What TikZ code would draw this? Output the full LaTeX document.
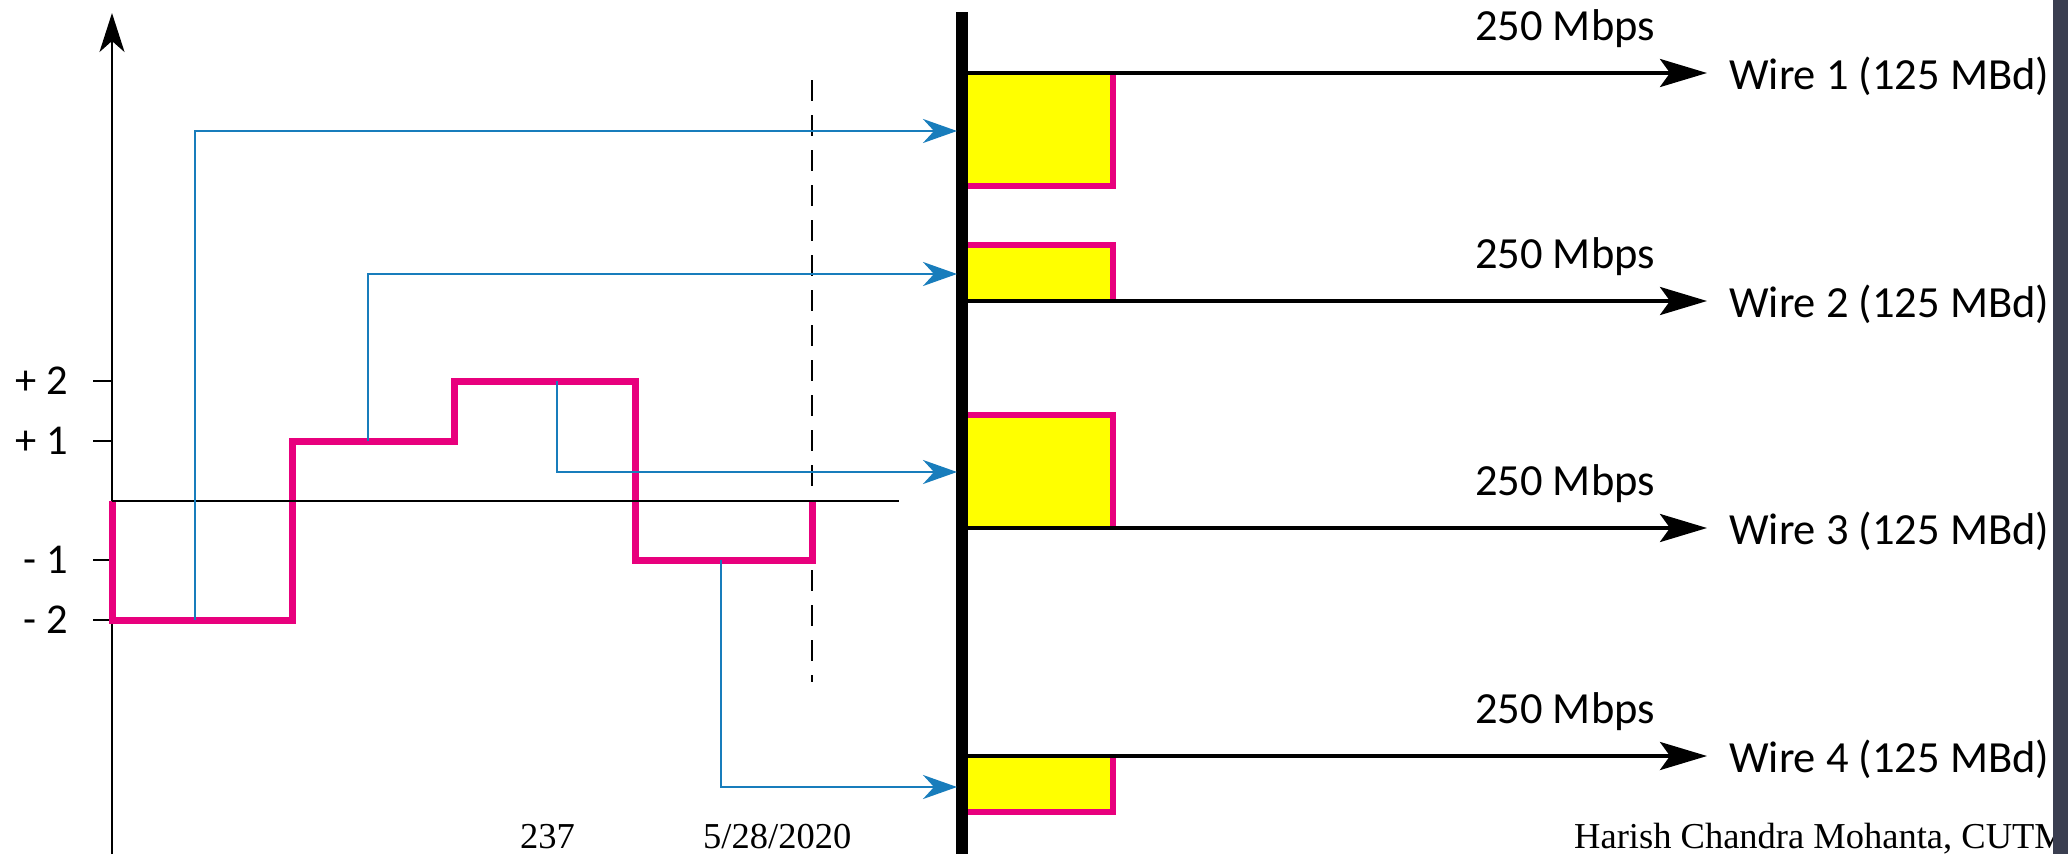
\documentclass[tikz,border=0pt]{standalone}
\usepackage{fontspec}
\setmainfont{Liberation Serif}
\newfontfamily\labelfont{Carlito}
\usetikzlibrary{arrows.meta}
\definecolor{sigpink}{RGB}{232,0,125}
\definecolor{linkblue}{RGB}{24,125,188}
\definecolor{boxyellow}{RGB}{255,255,0}
\definecolor{darkbar}{RGB}{58,62,80}
\tikzset{
  axisline/.style={line width=2.2pt},
  signal/.style={draw=sigpink,line width=7pt,line join=miter},
  linkarrow/.style={draw=linkblue,line width=2.6pt,line join=miter,-{Stealth[length=34pt,width=24pt,inset=11pt]}},
  wirearrow/.style={line width=4pt,-{Stealth[length=47pt,width=28pt,inset=10pt]}},
  busline/.style={line width=12pt},
  boxfill/.style={fill=boxyellow},
  boxedge/.style={draw=sigpink,line width=6pt,line join=miter},
  ticklabel/.style={font=\labelfont\fontsize{42.5}{48}\selectfont,anchor=east,inner sep=0pt},
  ratelabel/.style={font=\labelfont\fontsize{44.5}{50}\selectfont,anchor=base west,inner sep=0pt},
  footlabel/.style={font=\fontsize{36.5}{42}\selectfont,anchor=base west,inner sep=0pt},
  dashline/.style={line width=2.2pt,dash pattern=on 21pt off 14pt},
}
\begin{document}
\begin{tikzpicture}[x=1pt,y=-1pt]
\useasboundingbox (0,0) rectangle (2068,854);
\fill[white] (0,0) rectangle (2068,854);

% coordinates
\coordinate (axbot) at (112,854);
\coordinate (axtop) at (112,13);
\coordinate (zl) at (112,501);
\coordinate (zr) at (899,501);
\coordinate (dtop) at (812,80);
\coordinate (dbot) at (812,682);
\coordinate (bustop) at (962,12);
\coordinate (busbot) at (962,854);

% y axis
\draw[axisline,-{Stealth[length=39pt,width=25pt,inset=11pt]}] (axbot) -- (axtop);
% ticks and labels
\foreach \yy/\lab/\nm in {381/{+ 2}/p2, 441/{+ 1}/p1, 560/{- 1}/m1, 620/{- 2}/m2}{
  \coordinate (t\nm a) at (93,\yy);
  \coordinate (t\nm b) at (112,\yy);
  \draw[axisline] (t\nm a) -- (t\nm b);
  \node[ticklabel] (l\nm) at (68,\yy) {\lab};
}

% dashed line
\draw[dashline] (dtop) -- (dbot);

% signal
\coordinate (s0) at (112,501);
\coordinate (s1) at (112,620);
\coordinate (s2) at (292,620);
\coordinate (s3) at (292,441);
\coordinate (s4) at (454,441);
\coordinate (s5) at (454,381);
\coordinate (s6) at (635,381);
\coordinate (s7) at (635,560);
\coordinate (s8) at (812,560);
\coordinate (s9) at (812,501);
\draw[signal] (s0) -- (s1) -- (s2) -- (s3) -- (s4) -- (s5) -- (s6) -- (s7) -- (s8) -- (s9);

% zero line
\draw[axisline] (zl) -- (zr);

% yellow boxes
\coordinate (b1a) at (968,73);   \coordinate (b1b) at (1113,186);
\coordinate (b2a) at (968,245);  \coordinate (b2b) at (1113,301);
\coordinate (b3a) at (968,415);  \coordinate (b3b) at (1113,528);
\coordinate (b4a) at (968,756);  \coordinate (b4b) at (1113,812);
\fill[boxfill] (b1a) rectangle (b1b);
\fill[boxfill] (b2a) rectangle (b2b);
\fill[boxfill] (b3a) rectangle (b3b);
\fill[boxfill] (b4a) rectangle (b4b);
\draw[boxedge] (b1a |- b1b) -- (b1b) -- (b1b |- b1a);
\draw[boxedge] (b2a) -- (b2b |- b2a) -- (b2b);
\draw[boxedge] (b3a) -- (b3b |- b3a) -- (b3b);
\draw[boxedge] (b4a |- b4b) -- (b4b) -- (b4b |- b4a);

% wires
\foreach \yy/\n in {73/1, 301/2, 528/3, 756/4}{
  \coordinate (w\n s) at (968,\yy);
  \coordinate (w\n e) at (1707,\yy);
  \draw[wirearrow] (w\n s) -- (w\n e);
  \node[ratelabel] (rate\n) at (1475,\yy-33) {250 Mbps};
  \node[ratelabel] (wire\n) at (1729,\yy+16) {Wire \n\ (125 MBd)};
}

% bus
\draw[busline] (bustop) -- (busbot);

% blue links
\coordinate (k1s) at (195,620); \coordinate (k1e) at (957,131);
\coordinate (k2s) at (368,441); \coordinate (k2e) at (957,274);
\coordinate (k3s) at (557,381); \coordinate (k3e) at (957,472);
\coordinate (k4s) at (721,560); \coordinate (k4e) at (957,787);
\draw[linkarrow] (k1s) |- (k1e);
\draw[linkarrow] (k2s) |- (k2e);
\draw[linkarrow] (k3s) |- (k3e);
\draw[linkarrow] (k4s) |- (k4e);

% footer
\node[footlabel] (pg) at (520,848) {237};
\node[footlabel] (dt) at (703,848) {5/28/2020};
\node[footlabel] (au) at (1574,848) {Harish Chandra Mohanta, CUTM};
\fill[darkbar] (2053,0) rectangle (2068,854);
\end{tikzpicture}
\end{document}
